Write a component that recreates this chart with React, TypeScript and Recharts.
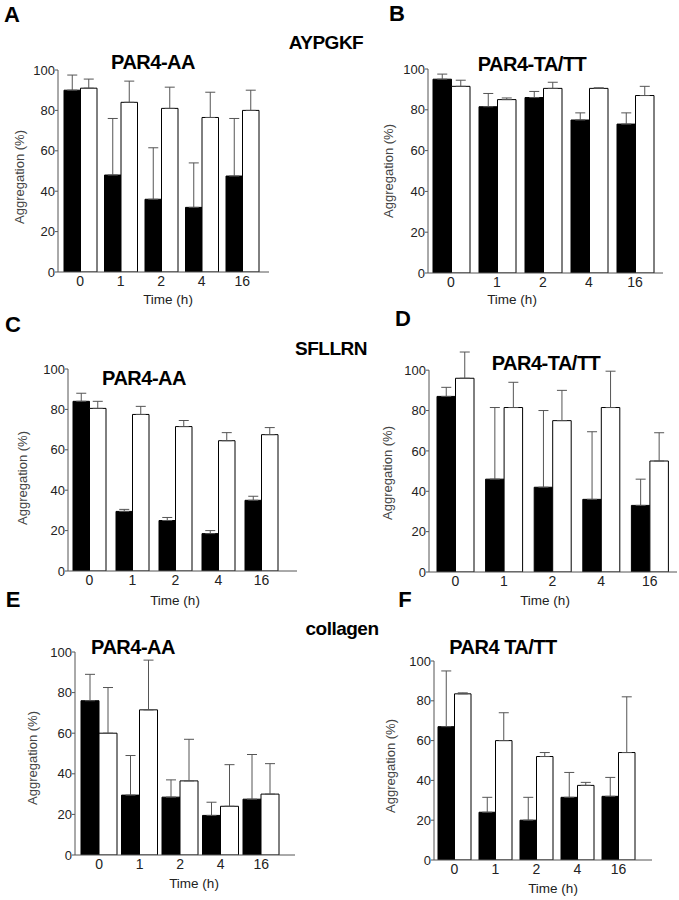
import { BarChart, Bar, XAxis, YAxis, ErrorBar } from 'recharts';

const times = ['0', '1', '2', '4', '16'];
const yTicks = [0, 20, 40, 60, 80, 100];

// AYPGKF, PAR4-AA
const aBlack = [90, 48, 36, 32, 47.5];
const aBlackSd = [7.5, 28, 25.5, 22, 28.5];
const aWhite = [91, 84, 81, 76.5, 80];
const aWhiteSd = [4.5, 10.5, 10.5, 12.5, 10];

// AYPGKF, PAR4-TA/TT
const bBlack = [95, 81.5, 86, 75, 73];
const bBlackSd = [2.5, 6.5, 3, 3.5, 5.5];
const bWhite = [91.5, 85, 90.5, 90.5, 87];
const bWhiteSd = [3, 0.8, 3, 0.3, 4.5];

// SFLLRN, PAR4-AA
const cBlack = [84, 29.5, 25, 18.5, 35];
const cBlackSd = [4, 1, 1.5, 1.5, 2];
const cWhite = [80.5, 77.5, 71.5, 64.5, 67.5];
const cWhiteSd = [3.5, 4, 3, 4, 3.5];

// SFLLRN, PAR4-TA/TT
const dBlack = [87, 46, 42, 36, 33];
const dBlackSd = [4.5, 35.5, 38, 33.5, 13];
const dWhite = [96, 81.5, 75, 81.5, 55];
const dWhiteSd = [13, 12.5, 15, 18, 14];

// collagen, PAR4-AA
const eBlack = [76, 29.5, 28.5, 19.5, 27.5];
const eBlackSd = [13, 19.5, 8.5, 6.5, 22];
const eWhite = [60, 71.5, 36.5, 24, 30];
const eWhiteSd = [22.5, 24.5, 20.5, 20.5, 15];

// collagen, PAR4 TA/TT
const fBlack = [67, 24, 20, 31.5, 32];
const fBlackSd = [28, 7.5, 11.5, 12.5, 9.5];
const fWhite = [83.5, 60, 52, 37.5, 54];
const fWhiteSd = [0.5, 14, 2, 1.5, 28];

const FONT = "'Liberation Sans', Arial, Helvetica, sans-serif";

function rows(black: number[], blackSd: number[], white: number[], whiteSd: number[]) {
  return times.map((t, i) => ({
    time: t,
    black: black[i],
    white: white[i],
    blackErr: [0, blackSd[i]],
    whiteErr: [0, whiteSd[i]],
  }));
}

interface Box {
  plotLeft: number;
  plotTop: number;
  plotW: number;
  plotH: number;
  padL: number;
  padR: number;
  barSize: number;
  yMax: number;
}

const YW = 40;
const MT = 10;
const MR = 6;
const XH = 26;

function Panel({ data, box }: { data: any[]; box: Box }) {
  const { plotLeft, plotTop, plotW, plotH, padL, padR, barSize, yMax } = box;
  // axis line only drawn from 0 to 100 even when the scale runs higher
  const gap = (plotH * (yMax - 100)) / yMax;
  return (
    <div style={{ position: 'absolute', left: plotLeft - YW, top: plotTop - MT }}>
      <BarChart
        width={YW + plotW + MR}
        height={MT + plotH + XH}
        data={data}
        margin={{ top: MT, right: MR, bottom: 0, left: 0 }}
        barGap={0}
        barSize={barSize}
      >
        <XAxis
          dataKey="time"
          height={XH}
          padding={{ left: padL, right: padR }}
          tickLine={false}
          tickSize={4}
          tickMargin={0}
          axisLine={{ stroke: '#555' }}
          tick={{ fontSize: 14, fill: '#222', fontFamily: FONT }}
          interval={0}
        />
        <YAxis
          width={YW}
          domain={[0, yMax]}
          allowDataOverflow
          ticks={yTicks}
          interval={0}
          tickSize={3}
          tickMargin={0}
          tickLine={{ stroke: '#555' }}
          axisLine={{ stroke: '#555', strokeDasharray: gap > 0 ? `0 ${gap} 2000` : undefined }}
          tick={{ fontSize: 13, fill: '#222', fontFamily: FONT }}
        />
        <Bar dataKey="black" fill="#000" stroke="#000" strokeWidth={1} isAnimationActive={false}>
          <ErrorBar dataKey="blackErr" direction="y" width={5} stroke="#555" strokeWidth={1} />
        </Bar>
        <Bar dataKey="white" fill="#fff" stroke="#000" strokeWidth={1} isAnimationActive={false}>
          <ErrorBar dataKey="whiteErr" direction="y" width={5} stroke="#555" strokeWidth={1} />
        </Bar>
      </BarChart>
    </div>
  );
}

function Txt({ x, y, size, bold, rotate, color, spacing, children }: any) {
  return (
    <div
      style={{
        position: 'absolute',
        left: x,
        top: y,
        transform: `translate(-50%, -50%)${rotate ? ` rotate(${rotate}deg)` : ''}`,
        fontFamily: FONT,
        fontSize: size,
        fontWeight: bold ? 700 : 400,
        color: color || '#000',
        letterSpacing: spacing || 0,
        whiteSpace: 'nowrap',
        lineHeight: 1,
      }}
    >
      {children}
    </div>
  );
}

const panels = [
  { key: 'A', data: rows(aBlack, aBlackSd, aWhite, aWhiteSd), box: { plotLeft: 58, plotTop: 70, plotW: 211, plotH: 202, padL: 2, padR: 6.5, barSize: 16.5, yMax: 100 } },
  { key: 'B', data: rows(bBlack, bBlackSd, bWhite, bWhiteSd), box: { plotLeft: 428, plotTop: 69, plotW: 235, plotH: 204, padL: 0, padR: 5, barSize: 18.5, yMax: 100 } },
  { key: 'C', data: rows(cBlack, cBlackSd, cWhite, cWhiteSd), box: { plotLeft: 68, plotTop: 369, plotW: 229, plotH: 202, padL: 0, padR: 14, barSize: 16.5, yMax: 100 } },
  { key: 'D', data: rows(dBlack, dBlackSd, dWhite, dWhiteSd), box: { plotLeft: 429, plotTop: 350, plotW: 248, plotH: 222, padL: 2, padR: 3, barSize: 18.5, yMax: 110 } },
  { key: 'E', data: rows(eBlack, eBlackSd, eWhite, eWhiteSd), box: { plotLeft: 75, plotTop: 652, plotW: 220, plotH: 203, padL: 4, padR: 13.5, barSize: 18, yMax: 100 } },
  { key: 'F', data: rows(fBlack, fBlackSd, fWhite, fWhiteSd), box: { plotLeft: 434, plotTop: 661, plotW: 218, plotH: 199, padL: 0, padR: 13, barSize: 16.5, yMax: 100 } },
];

export default function App() {
  return (
    <div style={{ position: 'absolute', left: 0, top: 0, width: 679, height: 900, background: '#fff', overflow: 'hidden' }}>
      {panels.map((p) => (
        <Panel key={p.key} data={p.data} box={p.box} />
      ))}

      {/* panel letters */}
      <Txt x={12} y={15} size={22} bold>A</Txt>
      <Txt x={397} y={14} size={22} bold>B</Txt>
      <Txt x={13} y={325} size={22} bold>C</Txt>
      <Txt x={403} y={319} size={22} bold>D</Txt>
      <Txt x={13} y={600} size={22} bold>E</Txt>
      <Txt x={405} y={600} size={22} bold>F</Txt>

      {/* agonists */}
      <Txt x={326} y={42} size={19} bold spacing={-0.5}>AYPGKF</Txt>
      <Txt x={331} y={348} size={19} bold spacing={-0.5}>SFLLRN</Txt>
      <Txt x={342} y={628} size={19} bold spacing={-0.5}>collagen</Txt>

      {/* panel titles */}
      <Txt x={153} y={62} size={20} bold spacing={-0.5}>PAR4-AA</Txt>
      <Txt x={532} y={64} size={20} bold spacing={-0.5}>PAR4-TA/TT</Txt>
      <Txt x={144} y={378} size={20} bold spacing={-0.5}>PAR4-AA</Txt>
      <Txt x={546} y={363} size={20} bold spacing={-0.5}>PAR4-TA/TT</Txt>
      <Txt x={133} y={647} size={20} bold spacing={-0.5}>PAR4-AA</Txt>
      <Txt x={503} y={647} size={20} bold spacing={-0.5}>PAR4 TA/TT</Txt>

      {/* x-axis titles */}
      <Txt x={168} y={300} size={13.5} color="#222">Time (h)</Txt>
      <Txt x={512} y={300} size={13.5} color="#222">Time (h)</Txt>
      <Txt x={175} y={601} size={13.5} color="#222">Time (h)</Txt>
      <Txt x={545} y={601} size={13.5} color="#222">Time (h)</Txt>
      <Txt x={194} y={884} size={13.5} color="#222">Time (h)</Txt>
      <Txt x={553} y={889} size={13.5} color="#222">Time (h)</Txt>

      {/* y-axis titles */}
      <Txt x={19} y={177} size={13} rotate={-90} color="#444">Aggregation (%)</Txt>
      <Txt x={388} y={171} size={13} rotate={-90} color="#444">Aggregation (%)</Txt>
      <Txt x={22} y={478} size={13} rotate={-90} color="#444">Aggregation (%)</Txt>
      <Txt x={387} y={473} size={13} rotate={-90} color="#444">Aggregation (%)</Txt>
      <Txt x={32} y={758} size={13} rotate={-90} color="#444">Aggregation (%)</Txt>
      <Txt x={390} y={766} size={13} rotate={-90} color="#444">Aggregation (%)</Txt>
    </div>
  );
}
